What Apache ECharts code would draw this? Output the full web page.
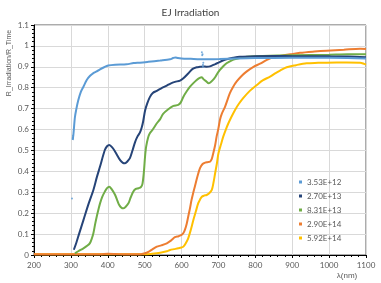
<!DOCTYPE html>
<html><head><meta charset="utf-8">
<script src="https://cdn.jsdelivr.net/npm/echarts@6/dist/echarts.min.js"></script>
<style>html,body{margin:0;padding:0;background:#fff}#c{width:381px;height:283px}</style>
</head><body><div id="c"></div>
<script>
const seriesNames = ['3.53E+12','2.70E+13','8.31E+13','2.90E+14','5.92E+14'];
const xTicks = [200,300,400,500,600,700,800,900,1000,1100];
const yTicks = ['0','0.1','0.2','0.3','0.4','0.5','0.6','0.7','0.8','0.9','1','1.1'];

const s1 = [[305,0.55],[307,0.58],[311,0.66],[315,0.70],[320,0.74],[327,0.78],[334,0.805],[343,0.837],[352,0.857],[361,0.87],[370,0.878],[379,0.888],[390,0.898],[401,0.906],[420,0.91],[451,0.912],[470,0.918],[487,0.92],[510,0.924],[542,0.93],[569,0.936],[577,0.942],[583,0.945],[590,0.942],[600,0.94],[625,0.938],[650,0.936],[675,0.936],[703,0.937],[750,0.94],[800,0.942],[900,0.943],[1000,0.943],[1050,0.942],[1100,0.94]];
const s1Outliers = [[303,0.27],[305,0.56],[306,0.57],[655,0.97],[656,0.955],[657,0.96],[658,0.91],[659,0.92],[658,0.9]];
const s2 = [[308,0.025],[315,0.06],[322,0.10],[334,0.167],[347,0.24],[361,0.311],[370,0.37],[379,0.423],[392,0.502],[398,0.52],[404,0.526],[412,0.515],[420,0.494],[433,0.455],[441,0.441],[447,0.439],[453,0.447],[460,0.463],[467,0.50],[474,0.54],[480,0.565],[487,0.585],[492,0.61],[496,0.64],[501,0.69],[507,0.725],[514,0.755],[522,0.775],[533,0.785],[545,0.797],[560,0.81],[570,0.82],[582,0.828],[596,0.834],[605,0.845],[618,0.868],[630,0.89],[641,0.898],[650,0.90],[659,0.902],[668,0.90],[677,0.902],[690,0.912],[700,0.92],[712,0.93],[722,0.936],[740,0.943],[758,0.948],[800,0.951],[850,0.952],[900,0.951],[1000,0.95],[1050,0.949],[1100,0.946]];
const s3 = [[311,0.008],[320,0.018],[334,0.032],[345,0.045],[352,0.058],[357,0.08],[361,0.104],[366,0.15],[370,0.183],[375,0.22],[379,0.247],[385,0.278],[392,0.303],[398,0.32],[404,0.327],[410,0.316],[420,0.287],[426,0.26],[431,0.239],[437,0.226],[442,0.223],[448,0.23],[456,0.247],[462,0.275],[469,0.303],[476,0.316],[483,0.319],[490,0.325],[494,0.34],[498,0.40],[501,0.47],[504,0.518],[509,0.56],[514,0.582],[522,0.60],[533,0.63],[542,0.65],[550,0.675],[564,0.697],[578,0.713],[591,0.718],[598,0.73],[605,0.757],[614,0.783],[623,0.805],[632,0.822],[641,0.837],[648,0.846],[655,0.85],[660,0.84],[668,0.829],[673,0.822],[677,0.824],[684,0.835],[691,0.85],[697,0.868],[704,0.885],[713,0.903],[722,0.917],[735,0.93],[749,0.938],[767,0.945],[786,0.949],[820,0.952],[900,0.955],[1000,0.958],[1050,0.96],[1100,0.96]];
const s4 = [[200,0.003],[300,0.003],[380,0.004],[400,0.006],[420,0.005],[450,0.003],[490,0.004],[501,0.008],[510,0.015],[520,0.026],[533,0.04],[545,0.046],[560,0.056],[572,0.07],[582,0.085],[592,0.09],[600,0.096],[605,0.105],[609,0.12],[614,0.15],[618,0.183],[623,0.225],[627,0.263],[632,0.3],[636,0.327],[643,0.375],[650,0.415],[657,0.435],[664,0.442],[670,0.444],[677,0.446],[682,0.46],[686,0.487],[691,0.525],[695,0.566],[700,0.606],[704,0.646],[709,0.675],[718,0.71],[731,0.774],[740,0.805],[749,0.829],[762,0.855],[776,0.877],[795,0.9],[813,0.915],[830,0.932],[849,0.946],[867,0.952],[895,0.96],[921,0.967],[960,0.973],[993,0.977],[1040,0.982],[1084,0.987],[1100,0.985]];
const s5 = [[200,0.003],[300,0.003],[400,0.003],[500,0.003],[520,0.006],[542,0.011],[560,0.018],[569,0.024],[580,0.028],[591,0.032],[600,0.036],[605,0.04],[611,0.055],[618,0.08],[625,0.12],[632,0.167],[639,0.21],[645,0.247],[650,0.265],[655,0.279],[661,0.284],[668,0.287],[675,0.295],[682,0.311],[687,0.35],[691,0.391],[696,0.44],[700,0.487],[707,0.53],[713,0.566],[720,0.6],[727,0.63],[735,0.66],[745,0.694],[755,0.722],[767,0.75],[785,0.785],[804,0.813],[820,0.835],[840,0.853],[855,0.87],[867,0.882],[885,0.898],[910,0.908],[939,0.917],[970,0.919],[993,0.92],[1048,0.921],[1084,0.92],[1095,0.914],[1100,0.91]];

const colors = ['#5B9BD5','#264478','#70AD47','#ED7D31','#FFC000'];
const font = 'Lato, "Liberation Sans", sans-serif';
const chart = echarts.init(document.getElementById('c'), null, {renderer:'canvas'});
function lineSeries(name, data, color){
  return {name, type:'line', data, smooth:0.3, showSymbol:false, symbol:'none',
    lineStyle:{color, width:2}, itemStyle:{color}, z:2};
}
chart.setOption({
  animation:false,
  textStyle:{fontFamily:font},
  title:{text:'EJ Irradiation', left:'center', top:3, textStyle:{fontSize:10, fontWeight:'normal', color:'#404040', fontFamily:font}},
  grid:{left:34, right:15, top:25, bottom:28, show:true, borderColor:'#595959', borderWidth:1},
  legend:{orient:'vertical', left:294, top:172, icon:'rect', itemWidth:3, itemHeight:3, itemGap:4,
    data:seriesNames, textStyle:{fontSize:8, color:'#595959', lineHeight:10, fontFamily:font}},
  xAxis:{type:'value', min:200, max:1100, interval:100,
    axisLine:{show:true, lineStyle:{color:'#000', width:1}},
    axisTick:{show:true, length:3, lineStyle:{color:'#000'}},
    minorTick:{show:true, splitNumber:5, length:2, lineStyle:{color:'#000'}},
    axisLabel:{fontSize:8, color:'#595959', margin:6, formatter:(v)=> xTicks.includes(v)? String(v):''},
    splitLine:{show:true, lineStyle:{color:'#D9D9D9'}}},
  yAxis:{type:'value', min:0, max:1.1, interval:0.1,
    axisLine:{show:true, lineStyle:{color:'#000', width:1}},
    axisTick:{show:true, length:3, lineStyle:{color:'#000'}},
    minorTick:{show:true, splitNumber:5, length:2, lineStyle:{color:'#000'}},
    axisLabel:{fontSize:8, color:'#595959', margin:5, formatter:(v)=> yTicks[Math.round(v*10)]},
    splitLine:{show:true, lineStyle:{color:'#D9D9D9'}}},
  graphic:[
    {type:'text', x:9, y:63, rotation:Math.PI/2, style:{text:'R_Irradiation/R_Time', fontSize:7, fill:'#595959', font:'7px '+font, textAlign:'center', textVerticalAlign:'middle'}},
    {type:'text', x:347, y:276, style:{text:'λ(nm)', fontSize:8, fill:'#595959', font:'8px '+font, textAlign:'center', textVerticalAlign:'middle'}}
  ],
  series:[
    lineSeries(seriesNames[4], s5, colors[4]),
    lineSeries(seriesNames[3], s4, colors[3]),
    lineSeries(seriesNames[2], s3, colors[2]),
    lineSeries(seriesNames[1], s2, colors[1]),
    lineSeries(seriesNames[0], s1, colors[0]),
    {name:seriesNames[0], type:'scatter', data:s1Outliers, symbolSize:2, itemStyle:{color:colors[0]}}
  ]
});
</script></body></html>
